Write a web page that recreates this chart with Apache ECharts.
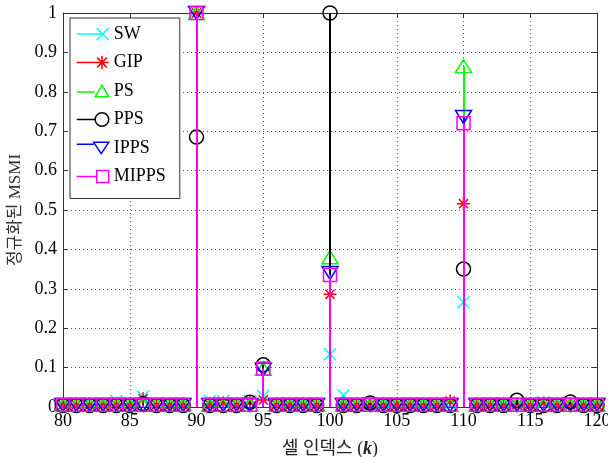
<!DOCTYPE html>
<html>
<head>
<meta charset="utf-8">
<script src="https://cdn.jsdelivr.net/npm/echarts@6/dist/echarts.min.js"></script>
<style>
html,body{margin:0;padding:0;background:#fff;}
#chart{width:608px;height:457px;}
</style>
</head>
<body>
<div id="chart"></div>
<script>
// cell index k = 80..120
const cellIndex = [80,81,82,83,84,85,86,87,88,89,90,91,92,93,94,95,96,97,98,99,100,101,102,103,104,105,106,107,108,109,110,111,112,113,114,115,116,117,118,119,120];
const seriesNames = ['SW','GIP','PS','PPS','IPPS','MIPPS'];
const SW    = [0.006,0.006,0.006,0.006,0.015,0.006,0.026,0.006,0.006,0.006,1.000,0.015,0.015,0.006,0.015,0.028,0.006,0.006,0.006,0.006,0.134,0.030,0.006,0.006,0.006,0.006,0.006,0.006,0.006,0.006,0.266,0.006,0.006,0.006,0.006,0.006,0.012,0.006,0.006,0.006,0.006];
const GIP   = [0.005,0.005,0.005,0.005,0.005,0.005,0.021,0.005,0.005,0.005,1.000,0.005,0.010,0.005,0.012,0.018,0.005,0.005,0.005,0.005,0.286,0.005,0.005,0.005,0.005,0.005,0.005,0.005,0.005,0.015,0.516,0.005,0.005,0.005,0.005,0.005,0.010,0.005,0.005,0.005,0.005];
const PS    = [0.006,0.006,0.006,0.006,0.006,0.006,0.006,0.006,0.006,0.006,1.000,0.006,0.006,0.006,0.006,0.097,0.006,0.006,0.006,0.006,0.380,0.006,0.006,0.006,0.006,0.006,0.006,0.006,0.006,0.006,0.865,0.006,0.006,0.006,0.006,0.006,0.006,0.006,0.006,0.006,0.006];
const PPS   = [0.004,0.004,0.004,0.004,0.004,0.004,0.008,0.004,0.004,0.004,0.685,0.004,0.004,0.004,0.012,0.107,0.004,0.004,0.004,0.004,1.000,0.004,0.004,0.010,0.004,0.004,0.004,0.004,0.004,0.004,0.350,0.004,0.004,0.004,0.017,0.004,0.004,0.004,0.013,0.004,0.004];
const IPPS  = [0.005,0.005,0.005,0.005,0.005,0.005,0.005,0.005,0.005,0.005,1.000,0.005,0.005,0.005,0.005,0.095,0.005,0.005,0.005,0.005,0.340,0.005,0.005,0.005,0.005,0.005,0.005,0.005,0.005,0.005,0.736,0.005,0.005,0.005,0.005,0.005,0.005,0.005,0.005,0.005,0.005];
const MIPPS = [0.006,0.006,0.006,0.006,0.006,0.006,0.006,0.006,0.006,0.006,1.000,0.006,0.006,0.006,0.006,0.098,0.006,0.006,0.006,0.006,0.335,0.006,0.006,0.006,0.006,0.006,0.006,0.006,0.006,0.006,0.720,0.006,0.006,0.006,0.006,0.006,0.006,0.006,0.006,0.006,0.006];
const xTicks = [80,85,90,95,100,105,110,115,120];
const yTicks = [0,0.1,0.2,0.3,0.4,0.5,0.6,0.7,0.8,0.9,1];

const values = [SW,GIP,PS,PPS,IPPS,MIPPS];
const colors = ['#00FFFF','#FF0000','#00FF00','#000000','#0000FF','#FF00FF'];
const symbols = [
  'path://M0,0L10,10M10,0L0,10',
  'path://M5,0L5,10M0,5L10,5M1.5,1.5L8.5,8.5M8.5,1.5L1.5,8.5',
  'path://M5,0L10,9L0,9Z',
  'circle',
  'path://M0,0L10,0L5,9Z',
  'rect'
];
const symbolSizes = [[12,12],[13,13],[16,13],[14,14],[16,13],[13,13]];
const legendIcons = [
  'path://M0,7L26,7M20,1L32,13M32,1L20,13',
  'path://M0,7L26,7M26,0L26,14M19,7L33,7M21,2L31,12M31,2L21,12',
  'path://M0,8L18,8M26,1L33,13L19,13Z',
  'path://M0,7L19,7M19,7A7,7,0,1,1,33,7A7,7,0,1,1,19,7Z',
  'path://M0,3L18,3M18,1L34,1L26,13Z',
  'path://M0,7L20,7M20,1L32,1L32,13L20,13Z'
];

const serif = '"Liberation Serif","Times New Roman",serif';
const kfont = '"Liberation Serif","Noto Sans CJK KR",serif';

const series = [];
seriesNames.forEach((name, i) => {
  const data = cellIndex.map((k, j) => [k, values[i][j]]);
  series.push({
    type: 'custom',
    name: name + '_stem',
    xAxisIndex: 0, yAxisIndex: 0,
    z: 10 + 2 * i,
    silent: true,
    renderItem: function (params, api) {
      const p0 = api.coord([api.value(0), 0]);
      const p1 = api.coord([api.value(0), api.value(1)]);
      const x = Math.round(p0[0]);
      return {
        type: 'line',
        shape: {x1: x, y1: p0[1], x2: x, y2: p1[1]},
        style: {stroke: colors[i], lineWidth: 2}
      };
    },
    data: data
  });
  series.push({
    type: 'scatter',
    name: name,
    xAxisIndex: 0, yAxisIndex: 0,
    z: 11 + 2 * i,
    clip: false,
    symbol: symbols[i],
    symbolSize: symbolSizes[i],
    symbolKeepAspect: false,
    itemStyle: {color: 'rgba(0,0,0,0)', borderColor: colors[i], borderWidth: 1.5, opacity: 1},
    emphasis: {disabled: true},
    data: data
  });
});

const chart = echarts.init(document.getElementById('chart'), null, {renderer: 'canvas'});
chart.setOption({
  animation: false,
  backgroundColor: '#fff',
  grid: {left: 63, right: 11, top: 13, bottom: 50, containLabel: false, outerBoundsMode: 'none'},
  legend: {
    left: 70, top: 18, orient: 'vertical',
    padding: [7, 14, 13, 6],
    itemWidth: 32, itemHeight: 14, itemGap: 10.5,
    borderColor: '#333', borderWidth: 1, backgroundColor: '#fff',
    textStyle: {fontFamily: serif, fontSize: 18, color: '#000'},
    itemStyle: {color: 'rgba(0,0,0,0)', borderWidth: 1.5},
    selectedMode: false,
    z: 50,
    data: seriesNames.map((n, i) => ({name: n, icon: legendIcons[i], itemStyle: {color: 'rgba(0,0,0,0)', borderColor: colors[i], borderWidth: 1.5}}))
  },
  xAxis: [{
    type: 'value', min: xTicks[0], max: xTicks[xTicks.length - 1], interval: 5,
    position: 'bottom',
    name: '셀 인덱스 {k|(}{kb|k}{k|)}',
    nameLocation: 'middle', nameGap: 33,
    nameTextStyle: {fontFamily: kfont, fontSize: 18, color: '#222',
      rich: {k: {fontFamily: serif, fontSize: 18, color: '#222'}, kb: {fontFamily: serif, fontSize: 18, fontStyle: 'italic', fontWeight: 'bold', color: '#222'}}},
    axisLine: {show: true, onZero: false, lineStyle: {color: '#333', width: 1}},
    axisTick: {show: true, inside: true, length: 5, lineStyle: {color: '#333'}},
    axisLabel: {fontFamily: serif, fontSize: 18, color: '#000', margin: 5},
    splitLine: {show: true, lineStyle: {type: [1, 3], color: '#555', width: 1}}
  }, {
    type: 'value', min: xTicks[0], max: xTicks[xTicks.length - 1], interval: 5,
    position: 'top',
    axisLine: {show: true, onZero: false, lineStyle: {color: '#333', width: 1}},
    axisTick: {show: true, inside: true, length: 5, lineStyle: {color: '#333'}},
    axisLabel: {show: false},
    splitLine: {show: false}
  }],
  yAxis: [{
    type: 'value', min: yTicks[0], max: yTicks[yTicks.length - 1], interval: 0.1,
    position: 'left',
    name: '정규화된 MSMI',
    nameLocation: 'middle', nameGap: 39, nameRotate: 90,
    nameTextStyle: {fontFamily: kfont, fontSize: 17, color: '#333'},
    axisLine: {show: true, onZero: false, lineStyle: {color: '#333', width: 1}},
    axisTick: {show: true, inside: true, length: 5, lineStyle: {color: '#333'}},
    axisLabel: {fontFamily: serif, fontSize: 18, color: '#000', margin: 6,
      formatter: v => (Math.abs(v) < 1e-9 ? '0' : (Math.abs(v - 1) < 1e-9 ? '1' : v.toFixed(1)))},
    splitLine: {show: true, lineStyle: {type: [1, 3], color: '#555', width: 1}}
  }, {
    type: 'value', min: yTicks[0], max: yTicks[yTicks.length - 1], interval: 0.1,
    position: 'right',
    axisLine: {show: true, onZero: false, lineStyle: {color: '#333', width: 1}},
    axisTick: {show: true, inside: true, length: 5, lineStyle: {color: '#333'}},
    axisLabel: {show: false},
    splitLine: {show: false}
  }],
  series: series
});
</script>
</body>
</html>
